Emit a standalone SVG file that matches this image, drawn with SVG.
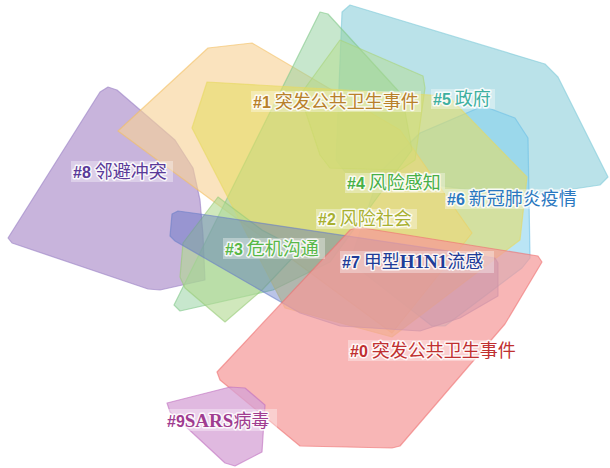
<svg xmlns="http://www.w3.org/2000/svg" width="610" height="468" viewBox="0 0 610 468">
<style>
.p{stroke-width:1.2;stroke-linejoin:round;stroke-opacity:0.6}
.bg{fill:#ffffff;fill-opacity:0.35}
.lbl{font-family:"Noto Sans CJK SC",sans-serif;font-size:18px;stroke:#ffffff;stroke-width:3;stroke-opacity:0.85;paint-order:stroke;stroke-linejoin:round}
.n{font-family:"Liberation Sans",Arial,sans-serif;font-weight:bold;font-size:16px}
.s{font-family:"Liberation Serif","Times New Roman",serif;font-weight:bold;font-size:19px}
</style>
<rect width="610" height="468" fill="#ffffff"/>
<g id="clusters">
<g id="cluster-8"><polygon class="p" fill="#c2acd8" fill-opacity="0.9" stroke="#9a80c4" points="8,238 100,92 108,87 117,90 175,140 193,168 200,200 203,235 205,280 160,290 148,289 12,243"/></g>
<g id="cluster-5"><polygon class="p" fill="#9fd7e0" fill-opacity="0.72" stroke="#7fcad8" points="350,5 545,64 558,77 608,177 600,185 520,197 345,172 336,160 342,12"/></g>
<g id="cluster-6"><polygon class="p" fill="#82d0ec" fill-opacity="0.55" stroke="#6cc0e6" points="483,106 515,118 528,138 530,258 522,268 445,326 432,326 350,262 380,172 420,133"/></g>
<g id="cluster-1"><polygon class="p" fill="#f7d296" fill-opacity="0.62" stroke="#f3c060" points="118,131 208,48 252,43 400,130 472,233 392,333"/></g>
<g id="cluster-4"><polygon class="p" fill="#8fcf9c" fill-opacity="0.5" stroke="#80c888" points="320,12 328,14 402,95 412,150 330,262 273,290 180,311 174,305"/></g>
<g id="cluster-4b"><polygon class="p" fill="#b4dc88" fill-opacity="0.45" stroke="#a8d478" points="340,40 423,76 425,88 415,160 400,170 330,168 320,155 300,95"/></g>
<g id="cluster-2"><polygon class="p" fill="#e6dc62" fill-opacity="0.58" stroke="#e8d860" points="207,82 448,96 527,177 520,240 392,337 285,308 192,128"/></g>
<g id="cluster-3"><polygon class="p" fill="#b0d890" fill-opacity="0.6" stroke="#98cc78" points="218,197 262,230 300,250 262,290 225,322 185,288 180,277 183,243"/></g>
<g id="cluster-7"><polygon class="p" fill="#4a64c0" fill-opacity="0.38" stroke="#6a80c8" points="178,211 200,214 495,258 498,263 498,296 460,318 420,331 340,326 300,313 175,241 170,236 172,214"/></g>
<g id="cluster-0"><polygon class="p" fill="#f59a9a" fill-opacity="0.72" stroke="#ef6f6f" points="357,227 538,256 542,262 505,324 400,446 392,448 300,446 220,380 217,372 350,230"/></g>
<g id="cluster-9"><polygon class="p" fill="#d6a2d6" fill-opacity="0.75" stroke="#c070c0" points="167,403 230,387 245,388 265,405 262,452 235,466 225,463 170,412"/></g>
</g>
<g id="labels">
<rect class="bg" x="251" y="91" width="170" height="21"/>
<text class="lbl" x="253" y="108" fill="#b8802a"><tspan class="n">#1</tspan> 突发公共卫生事件</text>
<rect class="bg" x="431" y="89" width="64" height="20"/>
<text class="lbl" x="433" y="105" fill="#3fb0a0"><tspan class="n">#5</tspan> 政府</text>
<rect class="bg" x="71" y="161" width="102" height="21"/>
<text class="lbl" x="73" y="178" fill="#5a3a98"><tspan class="n">#8</tspan> 邻避冲突</text>
<rect class="bg" x="345" y="173" width="100" height="20"/>
<text class="lbl" x="347" y="189" fill="#48b048"><tspan class="n">#4</tspan> 风险感知</text>
<rect class="bg" x="445" y="189" width="136" height="20"/>
<text class="lbl" x="447" y="205" fill="#2a78c0"><tspan class="n">#6</tspan> 新冠肺炎疫情</text>
<rect class="bg" x="316" y="209" width="101" height="20"/>
<text class="lbl" x="318" y="225" fill="#a8b030"><tspan class="n">#2</tspan> 风险社会</text>
<rect class="bg" x="223" y="238" width="102" height="21"/>
<text class="lbl" x="225" y="255" fill="#58b848"><tspan class="n">#3</tspan> 危机沟通</text>
<rect class="bg" x="340" y="251" width="154" height="22"/>
<text class="lbl" x="342" y="268" fill="#203c98"><tspan class="n">#7</tspan> 甲型<tspan class="s">H1N1</tspan>流感</text>
<rect class="bg" x="348" y="340" width="172" height="21"/>
<text class="lbl" x="350" y="357" fill="#c03030"><tspan class="n">#0</tspan> 突发公共卫生事件</text>
<rect class="bg" x="165" y="409" width="112" height="22"/>
<text class="lbl" x="167" y="427" fill="#a03c90"><tspan class="n">#9</tspan><tspan class="s">SARS</tspan>病毒</text>
</g>
</svg>
